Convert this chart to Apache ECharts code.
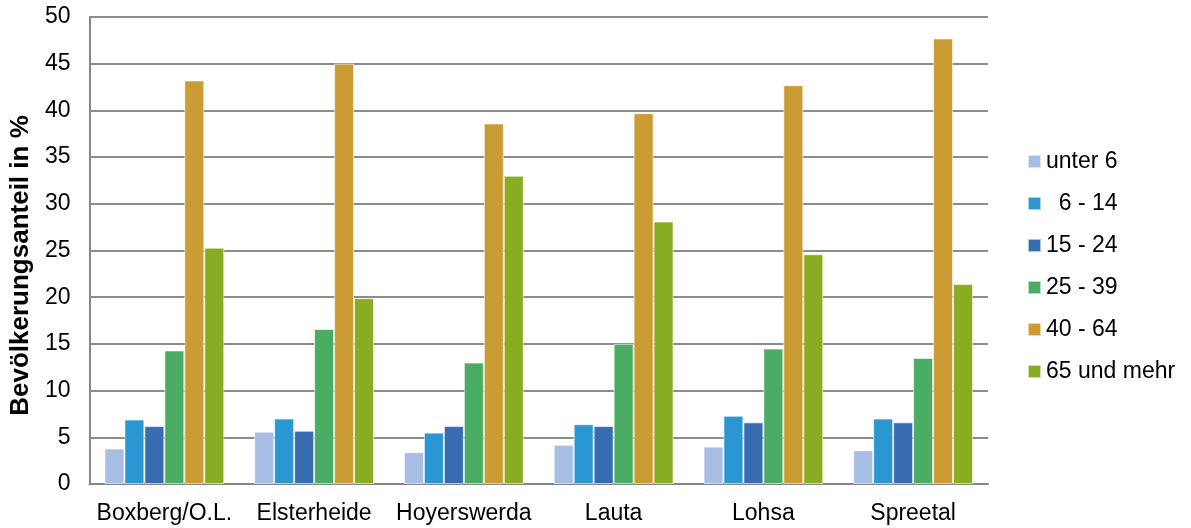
<!DOCTYPE html>
<html>
<head>
<meta charset="utf-8">
<script src="https://cdn.jsdelivr.net/npm/echarts@6/dist/echarts.min.js"></script>
<style>
  html, body { margin: 0; padding: 0; background: #fff; }
  #chart { width: 1191px; height: 528px; }
</style>
</head>
<body>
<div id="chart"></div>
<script>
// Gemeinden
const categories = ['Boxberg/O.L.', 'Elsterheide', 'Hoyerswerda', 'Lauta', 'Lohsa', 'Spreetal'];

// Altersgruppen (Anteil in %)
const unter6     = [3.8, 5.6, 3.4, 4.2, 4.0, 3.6];
const age6to14   = [6.9, 7.0, 5.5, 6.4, 7.3, 7.0];
const age15to24  = [6.2, 5.7, 6.2, 6.2, 6.6, 6.6];
const age25to39  = [14.3, 16.6, 13.0, 15.0, 14.5, 13.5];
const age40to64  = [43.2, 45.0, 38.6, 39.7, 42.7, 47.7];
const age65plus  = [25.3, 19.9, 33.0, 28.1, 24.6, 21.4];

const seriesNames = ['unter 6', '  6 - 14', '15 - 24', '25 - 39', '40 - 64', '65 und mehr'];
const seriesData = [unter6, age6to14, age15to24, age25to39, age40to64, age65plus];
const colors = ['#A7BDE4', '#2A97D2', '#386CB0', '#4BAC64', '#CB9C34', '#8AAC23'];

const yTicks = { min: 0, max: 50, interval: 5 };

const font = 'Liberation Sans, Arial, sans-serif';

const chart = echarts.init(document.getElementById('chart'), null, { renderer: 'canvas' });

chart.setOption({
  animation: false,
  backgroundColor: '#ffffff',
  color: colors,
  grid: { left: 88, right: 203, top: 17, bottom: 44, containLabel: false },
  legend: {
    orient: 'vertical',
    left: 1022,
    top: 145,
    itemWidth: 13,
    itemHeight: 13,
    itemGap: 19,
    icon: 'rect',
    textStyle: { fontFamily: font, fontSize: 23, color: '#000' },
    data: seriesNames
  },
  xAxis: {
    type: 'category',
    data: categories,
    axisLine: { lineStyle: { color: '#868686', width: 2 } },
    axisTick: { show: false },
    axisLabel: { fontFamily: font, fontSize: 23, color: '#000', margin: 18, interval: 0 }
  },
  yAxis: {
    type: 'value',
    min: yTicks.min,
    max: yTicks.max,
    interval: yTicks.interval,
    name: 'Bevölkerungsanteil in %',
    nameLocation: 'middle',
    nameGap: 46,
    nameTextStyle: { fontFamily: font, fontSize: 26, fontWeight: 'bold', color: '#000', padding: [0, 30, 0, 0] },
    axisLine: { show: true, lineStyle: { color: '#868686', width: 2 } },
    axisTick: { show: false },
    axisLabel: { fontFamily: font, fontSize: 23, color: '#000', margin: 19 },
    splitLine: { lineStyle: { color: '#8c8c8c', width: 2 } }
  },
  series: seriesNames.map((name, i) => ({
    name: name,
    type: 'bar',
    data: seriesData[i],
    barGap: '0%',
    barCategoryGap: '20%',
    itemStyle: { color: colors[i], borderColor: 'rgba(255,255,255,0.6)', borderWidth: 1 }
  }))
});
</script>
</body>
</html>
